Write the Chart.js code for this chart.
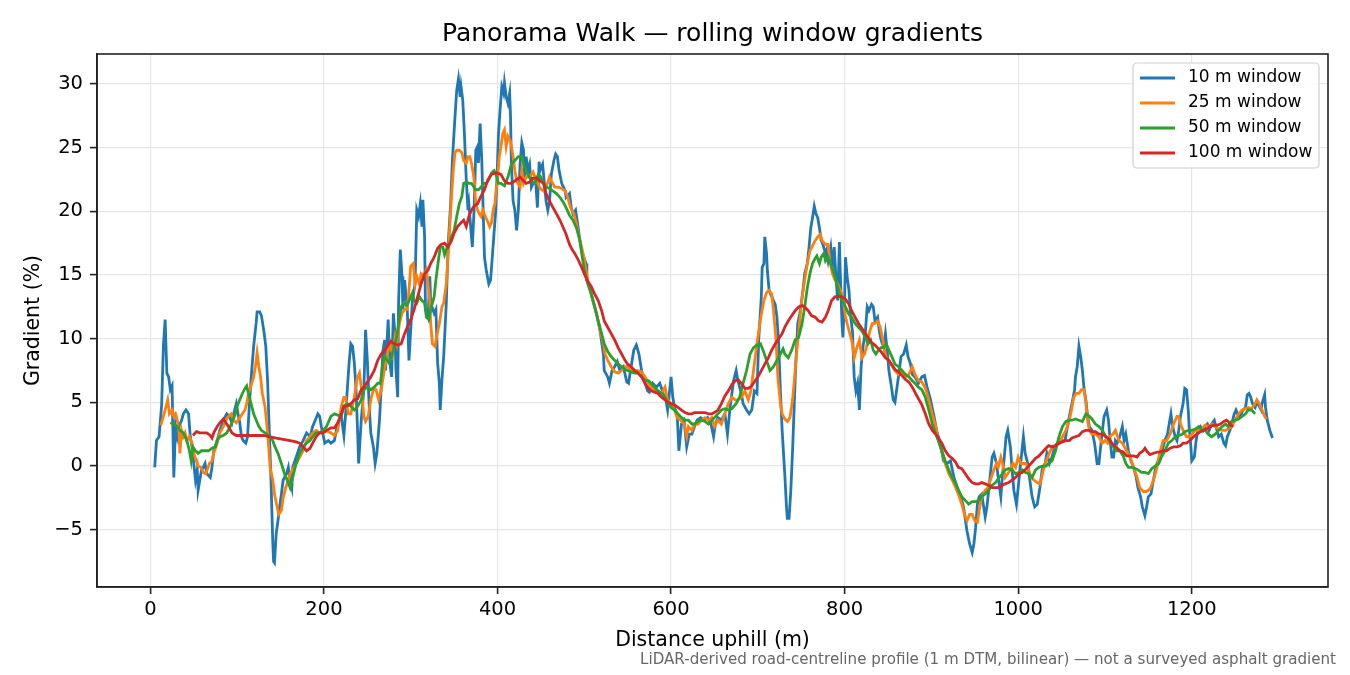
<!DOCTYPE html>
<html>
<head>
<meta charset="utf-8">
<title>Panorama Walk — rolling window gradients</title>
<script src="https://cdn.jsdelivr.net/npm/chart.js@4.4.1/dist/chart.umd.min.js"></script>
<style>
  html, body { margin: 0; padding: 0; background: #fff; }
  canvas { display: block; }
</style>
</head>
<body>
<canvas id="gradientChart" width="1350" height="675"></canvas>
<script>
// readings off the profile: [distance uphill (m), gradient (%)]
const walk10m = [
  [5,-0.1],[7,2.0],[10,2.3],[13,4.8],[15,9.4],[17,11.5],[19,7.3],[21,7.0],[23,6.0],[25,6.3],[27,-0.9],[29,3.1],[31,2.3],[33,3.1],[36,3.6],[38,4.1],[41,4.4],[44,4.1],[46,2.3],[48,1.5],
  [50,0.2],[52,-1.1],[54,-0.3],[55,-1.9],[57,-1.1],[59,-0.3],[61,-0.1],[63,0.2],[65,-0.6],[69,-0.9],[71,-0.1],[73,1.2],[77,2.0],[80,2.8],[84,3.6],[88,4.1],[91,3.9],[94,3.4],[96,4.1],[99,4.9],
  [101,4.1],[103,3.4],[105,2.3],[107,2.0],[110,1.8],[112,2.3],[114,4.7],[116,6.8],[119,9.4],[122,11.3],[123,12.1],[126,12.1],[128,11.8],[131,10.5],[133,9.4],[135,6.8],[137,2.8],[139,-1.1],[141,-5.9],[142,-7.5],
  [143,-7.6],[145,-5.3],[147,-4.3],[149,-3.2],[151,-2.2],[153,-1.1],[157,-0.6],[159,-0.1],[161,-1.1],[163,-1.7],[164,-0.1],[168,0.7],[172,1.5],[176,2.0],[180,2.6],[184,2.3],[187,3.1],[190,3.6],[193,4.1],[195,3.9],
  [197,3.1],[201,1.8],[205,2.0],[208,1.8],[212,2.0],[216,3.4],[220,3.9],[223,2.4],[225,4.1],[229,8.1],[231,9.6],[233,9.4],[235,8.1],[237,6.0],[239,2.3],[240,0.2],[243,3.6],[246,6.0],[248,10.7],[250,8.3],
  [252,4.9],[254,2.6],[257,1.5],[259,0.2],[261,1.0],[264,3.6],[266,6.2],[268,9.1],[270,9.9],[271,7.5],[274,11.5],[276,8.1],[278,7.0],[280,12.0],[282,10.2],[283,7.5],[285,5.4],[286,12.8],[288,17.0],[290,14.9],
  [291,12.3],[293,14.6],[296,12.3],[298,8.3],[300,10.7],[302,13.0],[305,14.3],[307,20.1],[309,19.6],[311,20.6],[313,18.8],[314,20.9],[316,18.0],[317,12.3],[320,11.7],[322,14.9],[323,12.8],[327,12.0],[329,12.3],[331,8.1],
  [333,6.5],[334,4.4],[336,6.8],[338,8.6],[341,12.8],[343,17.2],[346,20.6],[348,24.0],[351,27.4],[353,29.5],[355,30.4],[357,29.0],[358,29.8],[360,28.7],[362,25.9],[364,22.5],[366,20.1],[367,20.6],[370,18.0],[371,17.2],
  [373,20.1],[375,24.8],[377,25.1],[378,23.8],[380,26.9],[382,23.8],[383,21.2],[385,16.4],[387,15.4],[390,14.3],[392,14.6],[394,16.4],[396,18.3],[398,20.1],[400,23.8],[401,25.9],[403,28.0],[405,29.8],[407,29.3],[408,30.1],
  [410,29.0],[412,28.5],[414,29.3],[415,27.5],[416,23.7],[418,20.8],[420,20.1],[422,18.5],[424,20.1],[426,23.7],[428,25.4],[430,24.8],[431,22.4],[433,24.3],[435,23.2],[437,23.7],[439,21.9],[441,22.2],[444,22.4],[446,20.3],
  [448,23.9],[449,23.2],[452,23.7],[454,22.2],[456,20.8],[458,20.1],[460,20.8],[462,22.9],[465,24.0],[467,24.5],[469,24.3],[471,23.2],[474,22.2],[476,21.9],[478,21.6],[479,21.1],[483,21.4],[485,20.3],[487,19.8],[490,20.1],
  [493,18.7],[495,17.7],[497,16.9],[500,16.3],[502,15.9],[503,14.6],[506,14.1],[510,13.0],[514,12.0],[518,10.7],[522,8.8],[523,7.5],[527,7.0],[529,6.5],[532,7.5],[535,7.8],[538,8.2],[541,7.5],[545,7.8],[549,6.6],
  [551,6.5],[554,7.8],[557,9.1],[560,9.5],[563,8.8],[566,7.5],[569,6.7],[573,5.9],[575,5.8],[579,6.5],[583,6.2],[587,6.5],[591,5.7],[594,5.2],[596,4.4],[598,5.7],[600,7.0],[602,5.4],[604,4.6],[607,4.1],
  [609,1.2],[612,3.3],[615,3.6],[618,1.5],[621,2.5],[624,2.5],[627,3.1],[630,3.6],[634,3.8],[638,3.6],[642,3.8],[646,3.3],[649,2.3],[651,3.3],[654,3.8],[658,3.6],[662,4.1],[665,2.5],[668,4.6],[672,6.7],
  [675,7.5],[677,6.7],[681,5.7],[683,4.9],[687,4.4],[690,4.1],[693,4.4],[696,5.9],[699,5.7],[701,9.9],[704,13.3],[705,15.6],[707,15.9],[708,18.0],[710,16.7],[711,15.3],[713,13.8],[716,13.3],[718,13.0],[720,12.7],
  [722,11.7],[724,9.6],[726,5.9],[728,2.8],[731,-0.6],[733,-3.2],[734,-4.1],[736,-4.1],[738,-1.9],[740,1.2],[742,4.9],[744,8.5],[746,11.2],[749,12.2],[752,13.8],[754,15.1],[757,15.9],[759,17.2],[761,18.7],[763,19.5],
  [765,20.4],[767,19.8],[769,19.5],[771,18.7],[773,17.7],[775,17.4],[778,16.7],[779,16.9],[781,16.1],[784,17.2],[786,15.6],[788,17.2],[790,14.8],[792,13.0],[794,17.6],[795,15.1],[797,11.2],[798,10.1],[800,13.3],[801,16.4],
  [803,14.8],[805,13.8],[807,11.7],[809,10.6],[811,7.0],[813,5.9],[815,6.5],[817,4.4],[819,7.8],[821,9.3],[824,10.6],[826,12.5],[828,12.2],[831,12.7],[833,12.5],[835,11.4],[838,11.7],[840,10.6],[842,9.9],[845,9.3],
  [847,10.4],[849,9.1],[851,7.5],[854,6.2],[856,5.2],[858,5.0],[861,6.5],[863,7.5],[865,8.6],[868,8.8],[871,9.5],[873,8.6],[876,8.0],[878,7.2],[881,7.0],[885,6.5],[889,7.0],[892,7.1],[895,6.2],[899,5.2],
  [903,3.9],[906,2.8],[910,1.8],[914,0.4],[918,0.2],[922,0.4],[926,-0.9],[930,-1.7],[933,-2.2],[937,-3.2],[941,-5.1],[944,-6.1],[947,-6.8],[949,-6.1],[951,-4.8],[953,-3.0],[955,-2.4],[958,-2.2],[962,-4.0],[964,-3.2],
  [966,-1.9],[968,-0.6],[970,0.7],[972,1.0],[975,0.2],[977,-0.9],[980,-2.4],[982,-0.6],[984,0.7],[986,2.3],[988,2.8],[991,1.5],[993,-0.3],[995,-1.9],[998,-3.0],[1000,-1.7],[1002,-0.3],[1004,1.0],[1006,2.3],[1008,1.0],
  [1011,0.2],[1013,-0.9],[1016,-2.4],[1019,-3.2],[1022,-3.0],[1025,-1.7],[1028,-0.1],[1031,0.2],[1033,1.0],[1036,0.2],[1039,0.7],[1042,1.5],[1045,1.8],[1048,1.8],[1051,2.0],[1054,2.0],[1056,2.8],[1059,3.9],[1062,4.9],[1065,6.0],
  [1066,7.0],[1068,7.8],[1070,9.4],[1072,8.6],[1074,7.5],[1076,6.0],[1078,5.2],[1080,3.9],[1082,3.1],[1085,2.8],[1088,1.8],[1091,0.2],[1093,0.2],[1095,1.5],[1097,2.8],[1099,3.9],[1102,4.4],[1104,3.6],[1106,2.0],[1108,0.7],
  [1110,0.7],[1112,2.0],[1114,1.8],[1117,2.3],[1120,3.1],[1122,2.0],[1124,2.5],[1127,1.2],[1130,0.4],[1133,-0.1],[1136,-0.9],[1138,-1.7],[1141,-2.4],[1143,-3.2],[1146,-3.9],[1148,-3.2],[1150,-2.4],[1153,-2.2],[1155,-1.4],[1158,-0.3],
  [1160,0.2],[1163,0.7],[1167,1.5],[1169,2.0],[1172,2.5],[1174,3.3],[1176,4.1],[1177,3.6],[1179,2.8],[1181,2.3],[1183,2.0],[1185,2.8],[1187,3.9],[1190,4.9],[1192,6.1],[1194,6.0],[1196,4.4],[1197,3.1],[1199,1.5],[1200,0.4],
  [1203,0.7],[1205,2.0],[1207,2.8],[1210,3.1],[1213,2.8],[1215,3.1],[1218,3.3],[1220,2.8],[1223,3.3],[1226,3.6],[1228,3.1],[1231,2.3],[1234,2.5],[1237,1.8],[1239,1.6],[1241,2.3],[1244,2.8],[1246,3.3],[1249,4.1],[1251,4.4],
  [1254,3.9],[1257,4.1],[1259,4.4],[1262,4.6],[1264,5.6],[1266,5.7],[1268,5.4],[1270,4.9],[1273,4.6],[1275,5.0],[1277,4.8],[1280,4.4],[1281,4.9],[1284,5.6],[1285,4.6],[1287,3.6],[1290,2.8],[1293,2.2]
];

const walk25m = [
  [12,3.2],[15,3.9],[17,4.4],[20,5.2],[22,4.1],[25,4.4],[27,3.9],[29,4.1],[31,3.6],[33,2.6],[34,1.0],[36,2.8],[38,2.3],[40,2.6],[42,2.0],[45,2.3],[48,1.8],[50,1.0],[53,0.4],[55,0.0],
  [58,-0.1],[61,-0.5],[64,-0.6],[66,-0.2],[68,0.2],[71,0.4],[73,1.0],[77,1.8],[80,2.6],[84,3.1],[87,3.6],[90,3.9],[93,4.1],[96,3.6],[99,3.4],[101,3.6],[104,3.9],[106,4.1],[109,4.4],[111,4.9],
  [113,5.7],[116,6.3],[119,7.0],[121,7.8],[123,8.9],[125,7.8],[127,7.0],[129,5.7],[132,4.7],[134,3.4],[136,1.8],[138,-0.1],[141,-1.1],[143,-2.2],[146,-3.2],[148,-3.8],[151,-3.5],[153,-2.5],[156,-1.7],[159,-1.1],
  [161,-0.6],[164,-0.3],[168,0.2],[172,0.7],[176,1.2],[180,2.0],[184,2.3],[187,2.6],[191,2.8],[195,2.6],[199,2.6],[203,2.8],[208,2.6],[212,2.4],[216,2.8],[220,4.7],[223,5.4],[225,5.4],[228,4.1],[231,4.1],
  [235,5.4],[238,6.8],[241,7.3],[243,6.2],[246,3.9],[248,3.5],[251,3.9],[254,5.2],[257,6.0],[260,6.0],[263,5.2],[266,6.0],[269,7.3],[271,8.1],[274,9.1],[276,9.6],[279,8.8],[282,10.2],[284,9.6],[287,11.2],
  [290,12.0],[293,12.3],[296,12.3],[298,13.8],[300,15.7],[303,15.9],[305,14.3],[307,14.9],[310,14.3],[312,15.1],[315,14.9],[318,15.4],[320,14.3],[322,13.0],[323,11.2],[325,9.6],[328,9.4],[330,10.2],[333,11.2],[336,12.5],
  [338,12.8],[341,14.3],[343,16.4],[345,18.8],[347,21.2],[349,23.2],[351,24.6],[353,24.8],[356,24.8],[359,24.6],[361,24.0],[364,23.8],[366,24.3],[368,24.3],[370,23.8],[372,23.0],[373,22.5],[375,20.6],[377,20.1],[379,19.8],
  [381,19.6],[383,20.1],[386,19.6],[388,19.3],[391,18.8],[393,19.1],[395,20.1],[397,20.6],[398,21.4],[400,22.5],[402,24.3],[404,25.1],[406,26.1],[408,26.4],[410,25.1],[412,25.9],[415,25.5],[418,24.3],[420,23.2],[422,22.4],
  [426,21.9],[428,23.2],[430,22.2],[433,22.7],[437,22.7],[441,23.1],[445,22.4],[449,21.8],[453,21.6],[456,21.9],[460,22.7],[462,22.4],[466,21.9],[470,21.9],[474,21.8],[478,21.6],[481,21.1],[484,20.3],[488,19.8],[491,19.0],
  [495,17.7],[497,17.2],[500,16.2],[504,14.6],[508,13.5],[512,12.5],[516,11.4],[519,10.4],[522,9.6],[524,8.8],[527,8.3],[531,7.8],[535,7.4],[539,7.3],[543,7.5],[547,7.8],[550,7.8],[554,7.5],[558,7.5],[562,7.5],
  [566,7.4],[570,7.0],[574,6.5],[577,6.2],[581,5.9],[585,5.9],[589,5.7],[593,6.2],[596,5.2],[600,4.9],[604,4.4],[607,3.8],[611,3.6],[615,3.3],[618,2.3],[620,3.1],[624,2.8],[627,3.3],[631,3.3],[635,3.6],
  [639,3.8],[643,3.6],[647,3.8],[650,3.1],[654,3.6],[658,3.3],[662,4.1],[666,4.9],[670,5.4],[674,5.2],[677,5.2],[681,5.4],[685,5.9],[689,5.2],[692,5.9],[695,7.5],[698,9.1],[701,10.6],[704,11.9],[707,13.0],
  [710,13.6],[713,13.8],[716,13.5],[718,12.2],[721,9.9],[723,7.0],[726,4.9],[728,4.1],[731,3.7],[734,3.5],[737,3.8],[740,5.2],[742,6.7],[745,9.1],[748,11.2],[751,13.3],[754,14.6],[757,15.9],[760,16.9],[763,17.3],
  [766,17.7],[769,18.0],[772,18.2],[774,17.7],[778,17.4],[781,17.4],[783,16.1],[786,15.1],[789,14.6],[792,14.3],[795,13.8],[798,13.3],[801,11.7],[804,10.9],[806,10.4],[809,9.6],[811,8.5],[814,9.3],[817,9.9],[820,8.5],
  [823,8.8],[826,9.6],[829,10.6],[832,11.2],[835,11.2],[838,11.4],[841,10.9],[844,9.9],[846,9.1],[848,8.5],[851,8.3],[855,7.8],[858,7.5],[862,7.2],[866,7.5],[870,7.0],[874,7.2],[878,7.8],[881,7.2],[885,6.7],
  [889,6.6],[893,6.1],[897,5.2],[901,4.1],[905,3.1],[908,2.0],[912,1.2],[916,0.2],[920,-0.6],[924,-1.1],[928,-1.7],[931,-2.2],[935,-3.0],[938,-3.8],[941,-4.3],[944,-3.8],[947,-3.8],[950,-4.3],[953,-4.4],[955,-3.5],
  [958,-2.4],[962,-1.9],[965,-1.7],[968,-1.1],[972,-0.3],[975,0.2],[977,-0.1],[980,0.7],[982,0.2],[985,-0.9],[988,-0.6],[991,-0.3],[994,0.2],[997,-0.1],[1000,0.7],[1003,0.2],[1007,0.2],[1009,0.2],[1012,-0.3],[1015,-0.9],
  [1018,-1.1],[1022,-1.3],[1025,-1.4],[1028,-0.6],[1031,0.2],[1034,0.7],[1037,1.2],[1040,1.5],[1043,1.5],[1047,1.8],[1051,2.3],[1055,2.8],[1059,3.6],[1062,4.6],[1064,5.4],[1067,5.7],[1070,5.7],[1073,6.0],[1076,6.0],[1078,4.9],
  [1080,3.6],[1082,2.8],[1085,2.5],[1089,2.5],[1093,2.3],[1097,1.8],[1100,2.0],[1103,1.8],[1105,2.3],[1109,2.5],[1112,2.8],[1116,2.0],[1120,1.8],[1125,1.2],[1129,0.7],[1133,-0.1],[1137,-0.9],[1140,-1.7],[1144,-2.0],[1148,-2.0],
  [1152,-1.8],[1156,-1.1],[1160,-0.1],[1163,1.0],[1167,2.0],[1171,2.0],[1175,2.5],[1179,3.3],[1183,3.9],[1185,3.9],[1187,3.3],[1190,2.8],[1194,2.3],[1197,2.3],[1200,2.5],[1204,2.8],[1208,2.8],[1212,2.9],[1215,3.2],[1219,3.1],
  [1223,3.3],[1227,3.1],[1231,2.9],[1235,2.8],[1239,2.8],[1242,2.9],[1246,3.1],[1250,3.6],[1254,4.1],[1258,4.4],[1262,4.5],[1265,4.6],[1269,4.5],[1273,4.9],[1275,5.2],[1278,4.9],[1281,4.4],[1284,3.9],[1286,3.7]
];

const walk50m = [
  [23,3.4],[27,3.3],[31,3.1],[34,2.8],[38,2.6],[42,2.0],[45,1.2],[47,0.4],[49,1.5],[52,1.2],[55,1.0],[59,1.2],[63,1.2],[67,1.2],[71,1.4],[75,1.5],[77,2.0],[80,2.3],[84,2.4],[88,2.6],
  [92,3.1],[95,3.6],[98,4.1],[100,4.7],[103,5.2],[106,5.7],[109,6.1],[111,6.3],[113,5.7],[116,4.9],[119,4.1],[122,3.6],[125,3.1],[128,2.8],[132,2.6],[136,2.4],[140,2.2],[143,1.6],[147,1.0],[151,0.2],
  [155,-0.7],[159,-1.3],[161,-1.7],[164,-0.9],[168,0.2],[172,1.0],[176,1.5],[180,1.8],[184,2.0],[187,2.3],[191,2.6],[195,2.6],[199,2.8],[203,3.1],[208,3.9],[212,4.1],[216,4.0],[220,3.9],[223,4.7],[227,4.9],
  [231,4.7],[235,4.4],[239,4.7],[243,5.2],[246,6.0],[250,6.2],[254,6.0],[258,6.2],[262,6.5],[265,6.5],[268,8.1],[270,8.6],[273,8.3],[275,8.1],[278,8.6],[281,9.4],[284,10.2],[287,11.7],[289,12.5],[292,12.8],
  [295,12.6],[297,12.8],[300,13.3],[302,13.6],[304,13.0],[307,12.8],[310,13.3],[313,13.0],[316,12.8],[318,11.7],[321,11.5],[323,12.3],[327,13.3],[329,14.6],[332,16.2],[334,17.2],[337,17.2],[339,16.6],[342,17.2],[345,17.5],
  [347,18.0],[350,18.5],[353,19.6],[356,20.6],[359,21.2],[361,22.2],[364,22.3],[367,22.2],[370,22.2],[373,21.9],[375,21.7],[378,21.7],[381,21.9],[384,22.2],[387,22.2],[390,22.5],[393,23.0],[396,23.2],[398,23.0],[401,22.2],
  [404,22.2],[408,22.0],[412,22.7],[416,23.7],[420,24.0],[424,24.3],[428,24.3],[431,23.5],[435,22.9],[439,22.4],[443,22.2],[447,22.9],[449,22.8],[453,22.2],[456,21.9],[460,21.8],[464,21.6],[468,21.4],[472,21.1],[476,20.7],
  [479,20.3],[483,19.7],[487,19.3],[491,18.7],[495,17.7],[497,16.7],[500,15.4],[504,14.3],[508,13.5],[512,12.5],[516,11.4],[520,10.4],[523,9.6],[527,9.0],[531,8.6],[535,8.3],[539,8.0],[543,7.8],[547,7.6],[550,7.5],
  [554,7.4],[558,7.3],[562,7.3],[566,7.0],[570,6.7],[574,6.7],[577,6.5],[581,6.2],[585,5.9],[589,5.7],[593,5.4],[597,4.9],[600,4.6],[604,4.4],[608,4.1],[612,3.8],[616,3.6],[620,3.6],[624,3.3],[627,3.3],
  [631,3.5],[635,3.6],[639,3.5],[643,3.3],[647,3.6],[650,3.8],[654,4.1],[658,4.4],[662,4.5],[666,4.4],[670,4.5],[675,4.9],[679,5.4],[683,6.5],[687,7.5],[691,8.8],[695,9.3],[699,9.5],[703,9.6],[706,9.1],
  [710,8.3],[714,7.5],[718,7.8],[722,8.3],[726,8.8],[729,9.2],[731,8.8],[735,8.5],[739,9.1],[743,9.9],[747,10.1],[751,11.2],[754,12.5],[757,14.0],[760,15.1],[763,15.9],[766,16.3],[768,16.5],[771,15.9],[773,16.4],
  [776,16.7],[778,16.1],[781,16.4],[784,15.9],[787,15.3],[790,14.6],[793,13.8],[797,13.0],[801,12.5],[805,11.9],[808,11.7],[812,11.2],[816,10.9],[820,10.6],[824,10.1],[827,9.6],[830,9.9],[833,9.1],[836,8.8],[839,9.1],
  [842,9.3],[845,9.3],[848,9.6],[851,9.1],[855,8.5],[858,8.0],[862,7.8],[866,7.5],[870,7.2],[874,7.0],[878,6.7],[881,6.5],[885,6.2],[889,6.0],[893,5.4],[897,4.4],[901,3.3],[905,2.5],[908,2.0],[912,1.2],
  [916,0.4],[920,-0.3],[924,-0.9],[928,-1.4],[931,-1.9],[935,-2.4],[939,-2.7],[943,-3.0],[947,-2.8],[951,-2.8],[955,-2.7],[958,-2.4],[962,-2.2],[966,-1.9],[970,-1.5],[974,-1.3],[978,-0.9],[982,-0.6],[985,-0.3],[989,-0.2],
  [993,-0.3],[997,-0.6],[1001,-0.5],[1005,-0.3],[1008,-0.5],[1012,-0.6],[1016,-0.9],[1020,-0.3],[1024,-0.1],[1028,0.0],[1032,0.0],[1035,0.2],[1039,0.4],[1043,1.2],[1047,2.3],[1051,3.1],[1055,3.5],[1059,3.6],[1062,3.6],[1066,3.7],
  [1070,3.6],[1074,3.5],[1078,4.1],[1082,3.9],[1085,3.7],[1089,3.3],[1093,3.1],[1097,2.8],[1101,2.3],[1105,2.0],[1109,1.6],[1113,1.2],[1117,1.2],[1121,0.8],[1124,0.2],[1127,-0.1],[1131,-0.1],[1135,-0.2],[1138,-0.3],[1142,-0.5],
  [1146,-0.5],[1150,-0.6],[1154,-0.2],[1158,0.0],[1162,0.2],[1165,0.7],[1169,1.2],[1173,1.8],[1177,2.0],[1181,2.3],[1185,2.4],[1189,2.5],[1192,2.7],[1196,2.8],[1200,2.8],[1204,2.9],[1208,3.1],[1212,2.8],[1215,2.9],[1219,2.5],
  [1223,2.3],[1227,2.5],[1231,2.8],[1235,3.1],[1239,3.3],[1242,3.1],[1246,3.5],[1250,3.6],[1254,3.7],[1258,3.9],[1262,4.1],[1265,4.4],[1269,4.4],[1273,4.1]
];

const walk100m = [
  [49,2.4],[53,2.7],[57,2.6],[61,2.6],[65,2.6],[69,2.4],[71,2.2],[73,2.6],[77,3.1],[80,3.4],[84,3.7],[87,3.4],[90,3.1],[94,2.6],[99,2.4],[107,2.4],[115,2.4],[122,2.4],[130,2.4],[138,2.3],
  [145,2.2],[153,2.1],[161,2.0],[168,1.9],[172,1.8],[176,1.5],[180,1.2],[184,1.4],[187,1.8],[191,2.3],[195,2.6],[199,2.6],[203,2.8],[208,3.0],[212,3.0],[216,3.4],[220,4.1],[223,4.7],[227,4.7],[231,4.9],
  [235,5.2],[239,5.3],[243,6.0],[246,6.2],[250,6.6],[254,7.0],[258,7.5],[262,8.3],[266,8.8],[270,9.1],[273,9.4],[277,9.8],[281,9.6],[285,9.5],[289,9.6],[293,10.4],[296,10.9],[300,11.5],[304,12.3],[308,13.3],
  [312,14.3],[316,15.1],[320,15.4],[323,15.9],[327,16.4],[331,17.1],[335,17.4],[339,17.5],[343,17.2],[347,17.7],[350,18.3],[354,18.8],[358,19.1],[361,19.3],[364,18.8],[367,19.6],[370,20.1],[373,20.4],[377,20.6],[381,21.2],
  [385,21.7],[389,22.5],[393,22.9],[397,23.0],[400,23.0],[404,22.9],[408,22.4],[412,22.2],[416,22.2],[420,22.4],[426,22.7],[430,22.4],[433,22.2],[437,22.3],[441,22.6],[445,22.6],[449,22.4],[453,22.2],[456,21.4],[460,20.8],
  [464,20.3],[468,19.8],[472,19.3],[476,18.7],[479,18.2],[483,17.4],[486,17.0],[489,16.7],[493,16.2],[497,15.6],[500,15.1],[504,14.5],[508,14.1],[512,13.5],[516,13.0],[520,12.2],[523,11.4],[527,10.9],[531,10.4],[535,9.9],
  [539,9.3],[543,8.8],[547,8.3],[550,8.0],[554,7.8],[558,7.5],[562,7.3],[566,7.0],[570,6.5],[574,6.1],[577,5.9],[581,5.8],[585,5.7],[589,5.4],[593,5.2],[597,5.0],[600,4.9],[604,4.8],[608,4.6],[612,4.4],
  [616,4.2],[620,4.1],[624,4.1],[627,4.2],[631,4.2],[635,4.2],[639,4.2],[643,4.1],[647,4.1],[650,4.2],[654,4.4],[658,4.9],[662,5.5],[666,5.9],[670,6.4],[674,6.7],[677,6.8],[681,6.5],[685,6.1],[689,6.1],
  [693,6.3],[697,6.7],[701,7.1],[704,7.5],[708,8.0],[712,8.5],[716,9.1],[720,9.6],[724,10.0],[728,10.4],[731,10.9],[735,11.4],[739,11.8],[743,12.2],[747,12.5],[751,12.6],[754,12.5],[758,12.2],[762,11.8],[766,11.7],
  [770,11.4],[774,11.3],[778,11.7],[781,12.2],[785,13.0],[789,13.3],[793,13.3],[797,13.3],[801,13.1],[805,12.7],[808,12.2],[812,11.7],[816,11.2],[820,10.8],[824,10.4],[828,10.0],[831,9.7],[835,9.5],[839,9.2],[843,8.9],
  [847,8.5],[851,8.3],[855,7.9],[858,7.6],[862,7.4],[866,7.1],[870,6.8],[874,6.6],[878,6.2],[881,5.8],[885,5.3],[889,4.8],[893,4.1],[897,3.3],[901,2.8],[905,2.5],[908,2.2],[912,1.8],[916,1.2],[920,0.8],
  [924,0.6],[928,0.3],[931,-0.1],[935,-0.2],[939,-0.6],[943,-1.0],[947,-1.3],[951,-1.4],[955,-1.4],[958,-1.3],[962,-1.4],[966,-1.5],[970,-1.7],[974,-1.7],[978,-1.7],[982,-1.5],[985,-1.4],[989,-1.3],[993,-1.1],[997,-0.9],
  [1001,-0.6],[1005,-0.5],[1008,-0.3],[1012,0.0],[1016,0.3],[1020,0.6],[1024,0.8],[1028,1.1],[1032,1.4],[1035,1.6],[1039,1.5],[1043,1.6],[1047,1.8],[1051,1.9],[1055,2.0],[1059,2.0],[1062,2.2],[1066,2.3],[1070,2.4],[1074,2.7],
  [1078,2.8],[1082,2.8],[1085,2.7],[1089,2.7],[1093,2.5],[1097,2.5],[1101,2.3],[1105,2.1],[1109,1.7],[1113,1.5],[1117,1.2],[1121,1.1],[1125,0.8],[1129,0.8],[1133,0.8],[1137,0.7],[1140,1.0],[1144,1.2],[1146,1.4],[1149,1.1],
  [1152,0.9],[1156,1.0],[1160,1.1],[1163,1.1],[1167,1.2],[1171,1.2],[1175,1.4],[1179,1.5],[1183,1.5],[1187,1.6],[1190,1.8],[1194,1.8],[1198,2.0],[1202,2.3],[1206,2.5],[1210,2.7],[1214,2.8],[1217,2.9],[1221,3.1],[1225,3.2],
  [1229,3.2],[1233,3.3],[1237,3.5],[1240,3.6],[1242,3.5],[1245,3.2],[1248,3.1]
];

const seriesLabels = ["10 m window", "25 m window", "50 m window", "100 m window"];
const xTicks = [0, 200, 400, 600, 800, 1000, 1200];
const yTicks = [-5, 0, 5, 10, 15, 20, 25, 30];

const FONT = "'DejaVu Sans', 'Liberation Sans', sans-serif";
const colors = ["#1f77b4", "#ff7f0e", "#2ca02c", "#d62728"];
const series = [walk10m, walk25m, walk50m, walk100m];

function minusSign(v) {
  return String(v).replace("-", "\u2212");
}

// matplotlib-style extras: title over the axes, top/right spines, legend, footnote
const frameAndLegend = {
  id: "frameAndLegend",
  afterDraw(chart) {
    const { ctx, chartArea: a } = chart;
    ctx.save();

    ctx.font = "25px " + FONT;
    ctx.fillStyle = "#000";
    ctx.textAlign = "center";
    ctx.textBaseline = "middle";
    ctx.fillText("Panorama Walk \u2014 rolling window gradients", (a.left + a.right) / 2, 34);

    ctx.strokeStyle = "#222";
    ctx.lineWidth = 1.6;
    ctx.strokeRect(a.left, a.top, a.right - a.left, a.bottom - a.top);

    // legend, upper right
    const w = 186, h = 105;
    const x0 = a.right - 9 - w, y0 = a.top + 9;
    ctx.beginPath();
    ctx.roundRect(x0, y0, w, h, 4);
    ctx.fillStyle = "rgba(255,255,255,0.85)";
    ctx.fill();
    ctx.strokeStyle = "#cfcfcf";
    ctx.lineWidth = 1.2;
    ctx.stroke();
    ctx.font = "17px " + FONT;
    ctx.textBaseline = "middle";
    ctx.textAlign = "left";
    chart.data.datasets.forEach((ds, i) => {
      const yy = y0 + 15 + i * 25;
      ctx.strokeStyle = ds.borderColor;
      ctx.lineWidth = 2.8;
      ctx.beginPath();
      ctx.moveTo(x0 + 7, yy);
      ctx.lineTo(x0 + 42, yy);
      ctx.stroke();
      ctx.fillStyle = "#000";
      ctx.fillText(ds.label, x0 + 55, yy);
    });

    ctx.font = "15.1px " + FONT;
    ctx.fillStyle = "#666";
    ctx.textAlign = "right";
    ctx.fillText("LiDAR-derived road-centreline profile (1 m DTM, bilinear) \u2014 not a surveyed asphalt gradient", 1336, 660);
    ctx.restore();
  }
};

const ctxGradient = document.getElementById("gradientChart").getContext("2d");
const gradientChart = new Chart(ctxGradient, {
  type: "line",
  data: {
    datasets: series.map((pts, i) => ({
      label: seriesLabels[i],
      data: pts.map(p => ({ x: p[0], y: p[1] })),
      borderColor: colors[i],
      backgroundColor: colors[i],
      borderWidth: 2.8,
      pointRadius: 0,
      tension: 0,
      fill: false,
      order: 3 - i,
    })),
  },
  options: {
    responsive: false,
    animation: false,
    layout: { padding: { left: 0, right: 22, top: 54, bottom: 0 } },
    plugins: {
      legend: { display: false },
      tooltip: { enabled: false },
      title: { display: false },
    },
    scales: {
      x: {
        type: "linear",
        min: -61.5,
        max: 1357,
        afterBuildTicks: axis => { axis.ticks = xTicks.map(v => ({ value: v })); },
        afterFit: scale => { scale.height = 88; },
        grid: { color: "#e6e6e6", lineWidth: 1.2, tickLength: 7, tickColor: "#222", tickWidth: 1.6 },
        border: { display: true, color: "#222", width: 1.6 },
        ticks: {
          color: "#000",
          font: { family: FONT, size: 19.5 },
          padding: 4,
          maxRotation: 0,
          autoSkip: false,
          callback: v => minusSign(v),
        },
        title: {
          display: true,
          text: "Distance uphill (m)",
          color: "#000",
          font: { family: FONT, size: 20.5 },
          padding: { top: 0, bottom: 22 },
        },
      },
      y: {
        min: -9.5,
        max: 32.36,
        afterBuildTicks: axis => { axis.ticks = yTicks.map(v => ({ value: v })); },
        afterFit: scale => { scale.width = 97; },
        grid: { color: "#e6e6e6", lineWidth: 1.2, tickLength: 7, tickColor: "#222", tickWidth: 1.6 },
        border: { display: true, color: "#222", width: 1.6 },
        ticks: {
          color: "#000",
          font: { family: FONT, size: 19.5 },
          padding: 7,
          autoSkip: false,
          callback: v => minusSign(v),
        },
        title: {
          display: true,
          text: "Gradient (%)",
          color: "#000",
          font: { family: FONT, size: 20.5 },
          padding: { top: 21, bottom: 0 },
        },
      },
    },
  },
  plugins: [frameAndLegend],
});
</script>
</body>
</html>
